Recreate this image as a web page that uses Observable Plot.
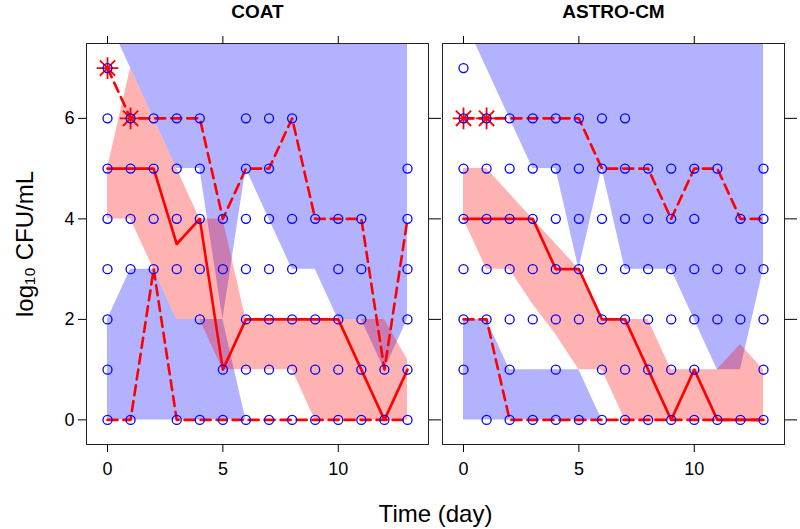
<!DOCTYPE html>
<html><head><meta charset="utf-8">
<script src="https://cdn.jsdelivr.net/npm/d3@7"></script>
<script src="https://cdn.jsdelivr.net/npm/@observablehq/plot@0.6"></script>
<style>body{margin:0;background:#fff;} #chart svg{display:block;}</style>
</head><body><div id="chart"></div>
<script>
const panels = ["COAT", "ASTRO-CM"];
const days = [0, 1, 2, 3, 4, 5, 6, 7, 8, 9, 10, 11, 12, 13];
const xTicks = [0, 5, 10];
const yTicks = [0, 2, 4, 6];

// Observed data: days with an observation at each level (index = log10 CFU/mL level 0..7)
const coatObsDays = [
  [0, 1, 3, 4, 5, 6, 7, 8, 9, 10, 11, 12, 13],
  [0, 5, 6, 7, 8, 9, 10, 11, 12, 13],
  [0, 4, 6, 7, 8, 9, 10, 11, 13],
  [0, 1, 2, 3, 4, 5, 6, 7, 8, 10, 11, 13],
  [0, 1, 2, 3, 4, 5, 6, 7, 8, 9, 10, 11, 13],
  [0, 1, 2, 3, 4, 6, 7, 13],
  [0, 1, 2, 3, 4, 6, 7, 8],
  [0]
];
const astroObsDays = [
  [1, 2, 3, 4, 5, 6, 7, 8, 9, 10, 11, 12, 13],
  [0, 2, 4, 6, 7, 8, 9, 10, 13],
  [0, 1, 2, 3, 4, 5, 6, 7, 8, 9, 10, 11, 12, 13],
  [0, 1, 2, 3, 4, 5, 6, 7, 8, 9, 10, 11, 12, 13],
  [0, 1, 2, 3, 4, 5, 6, 7, 8, 9, 10, 12, 13],
  [0, 1, 2, 3, 4, 5, 6, 7, 8, 9, 10, 11, 13],
  [0, 1, 2, 3, 4, 5, 6, 7],
  [0]
];

// Observed percentiles (per day)
const coatObsMedian = [5, 5, 5, 3.5, 4, 1, 2, 2, 2, 2, 2, 1, 0, 1];
const coatObsLow    = [0, 0, 3, 0, 0, 0, 0, 0, 0, 0, 0, 0, 0, 0];
const coatObsHigh   = [7, 6, 6, 6, 6, 4, 5, 5, 6, 4, 4, 4, 1, 4];
const astroObsMedian = [4, 4, 4, 4, 3, 3, 2, 2, 1, 0, 1, 0, 0, 0];
const astroObsLow    = [2, 2, 0, 0, 0, 0, 0, 0, 0, 0, 0, 0, 0, 0];
const astroObsHigh   = [6, 6, 6, 6, 6, 6, 5, 5, 5, 4, 5, 5, 4, 4];

// Simulated prediction intervals (per day)
const coatMedPILow  = [4, 4, 3, 2, 2, 1, 1, 1, 1, 0, 0, 0, 0, 0];
const coatMedPIHigh = [5, 7, 6, 5, 4, 4, 2, 2, 2, 2, 2, 2, 2, 1.2];
const coatLoPILow   = [0, 0, 0, 0, 0, 0, 0, 0, 0, 0, 0, 0, 0, 0];
const coatLoPIHigh  = [2, 3, 3, 2, 2, 2, 0, 0, 0, 0, 0, 0, 0, 0];
const coatHiPILow   = [8, 7, 6, 5, 5, 2, 5, 4, 3, 3, 2, 2, 1, 2];
const coatHiPIHigh  = [9, 9, 9, 9, 9, 9, 9, 9, 9, 9, 9, 9, 9, 9];
const astroMedPILow  = [4, 3, 3, 2.3, 1.7, 1, 1, 0, 0, 0, 0, 0, 0, 0];
const astroMedPIHigh = [5, 5, 4.5, 4, 3.5, 3, 2, 2, 2, 1, 1, 1, 1.5, 1];
const astroLoPILow   = [0, 0, 0, 0, 0, 0, 0, 0, 0, 0, 0, 0, 0, 0];
const astroLoPIHigh  = [2, 2, 1, 1, 1, 1, 0, 0, 0, 0, 0, 0, 0, 0];
const astroHiPILow   = [8, 7, 6, 5, 5, 3, 5, 3, 3, 3, 2, 1, 1, 3];
const astroHiPIHigh  = [9, 9, 9, 9, 9, 9, 9, 9, 9, 9, 9, 9, 9, 9];

const src = {
  "COAT": {obs: coatObsDays, med: coatObsMedian, lo: coatObsLow, hi: coatObsHigh,
    medL: coatMedPILow, medH: coatMedPIHigh, loL: coatLoPILow, loH: coatLoPIHigh, hiL: coatHiPILow, hiH: coatHiPIHigh},
  "ASTRO-CM": {obs: astroObsDays, med: astroObsMedian, lo: astroObsLow, hi: astroObsHigh,
    medL: astroMedPILow, medH: astroMedPIHigh, loL: astroLoPILow, loH: astroLoPIHigh, hiL: astroHiPILow, hiH: astroHiPIHigh}
};

const rows = panels.flatMap(p => days.map((d, i) => {
  const s = src[p];
  return {panel: p, day: d, obsMed: s.med[i], obsLo: s.lo[i], obsHi: s.hi[i],
    medL: s.medL[i], medH: s.medH[i], loL: s.loL[i], loH: s.loH[i], hiL: s.hiL[i], hiH: s.hiH[i]};
}));
const obs = panels.flatMap(p => src[p].obs.flatMap((ds, level) => ds.map(d => ({panel: p, day: d, value: level}))));
// observed percentiles falling outside their simulated interval
const stars = rows.flatMap(r => [[r.obsMed, r.medL, r.medH], [r.obsLo, r.loL, r.loH], [r.obsHi, r.hiL, r.hiH]]
  .filter(([v, l, h]) => v < l - 1e-9 || v > h + 1e-9)
  .map(([v]) => ({panel: r.panel, day: r.day, value: v})));

const chart = Plot.plot({
  width: 800, height: 529,
  marginLeft: 85, marginRight: 16, marginTop: 43, marginBottom: 85,
  style: {fontFamily: "'Liberation Sans', Arimo, Arial, sans-serif", background: "white", color: "black"},
  fx: {domain: panels, paddingInner: 0.04, paddingOuter: 0},
  x: {domain: [-0.91, 13.91]},
  y: {domain: [-0.49, 7.49]},
  marks: [
    Plot.areaY(rows, {fx: "panel", x: "day", y1: "loL", y2: "loH", fill: "#0000ff", fillOpacity: 0.3, clip: true}),
    Plot.areaY(rows, {fx: "panel", x: "day", y1: "hiL", y2: "hiH", fill: "#0000ff", fillOpacity: 0.3, clip: true}),
    Plot.areaY(rows, {fx: "panel", x: "day", y1: "medL", y2: "medH", fill: "#ff0000", fillOpacity: 0.3, clip: true}),
    Plot.frame({stroke: "#222"}),
    Plot.lineY(rows, {fx: "panel", x: "day", y: "obsMed", stroke: "red", strokeWidth: 2.6}),
    Plot.lineY(rows, {fx: "panel", x: "day", y: "obsLo", stroke: "red", strokeWidth: 2.6, strokeDasharray: "10,6"}),
    Plot.lineY(rows, {fx: "panel", x: "day", y: "obsHi", stroke: "red", strokeWidth: 2.6, strokeDasharray: "10,6"}),
    Plot.dot(stars, {fx: "panel", x: "day", y: "value", symbol: "plus", r: 7, stroke: "red", strokeWidth: 1.8}),
    Plot.dot(stars, {fx: "panel", x: "day", y: "value", symbol: "times", r: 7, stroke: "red", strokeWidth: 1.8}),
    Plot.dot(obs, {fx: "panel", x: "day", y: "value", r: 4.5, stroke: "blue", strokeWidth: 1.3}),
    Plot.axisX({anchor: "bottom", ticks: xTicks, tickSize: 8, tickPadding: 10, fontSize: 18, label: "Time (day)", labelArrow: "none", labelAnchor: "center", labelOffset: 77}),
    Plot.axisX({anchor: "top", ticks: xTicks, tickSize: 8, tickFormat: () => "", label: null}),
    Plot.axisY({anchor: "left", ticks: yTicks, tickSize: 8, tickPadding: 4, fontSize: 18, label: "log₁₀ CFU/mL", labelArrow: "none", labelAnchor: "center", labelOffset: 71}),
    Plot.axisY({anchor: "right", ticks: yTicks, tickSize: 12, tickFormat: () => "", label: null, facetAnchor: null}),
    Plot.axisFx({anchor: "top", tickSize: 0, tickPadding: 26, fontSize: 19, fontWeight: "bold", label: null})
  ]
});
d3.select(chart).selectAll('g[aria-label="x-axis label"] text, g[aria-label="y-axis label"] text')
  .attr("font-size", 24)
  .each(function () { this.textContent = this.textContent.replace(/\s*[→↑←↓]\s*/g, ""); });
document.getElementById("chart").appendChild(chart);
</script>
</body></html>
